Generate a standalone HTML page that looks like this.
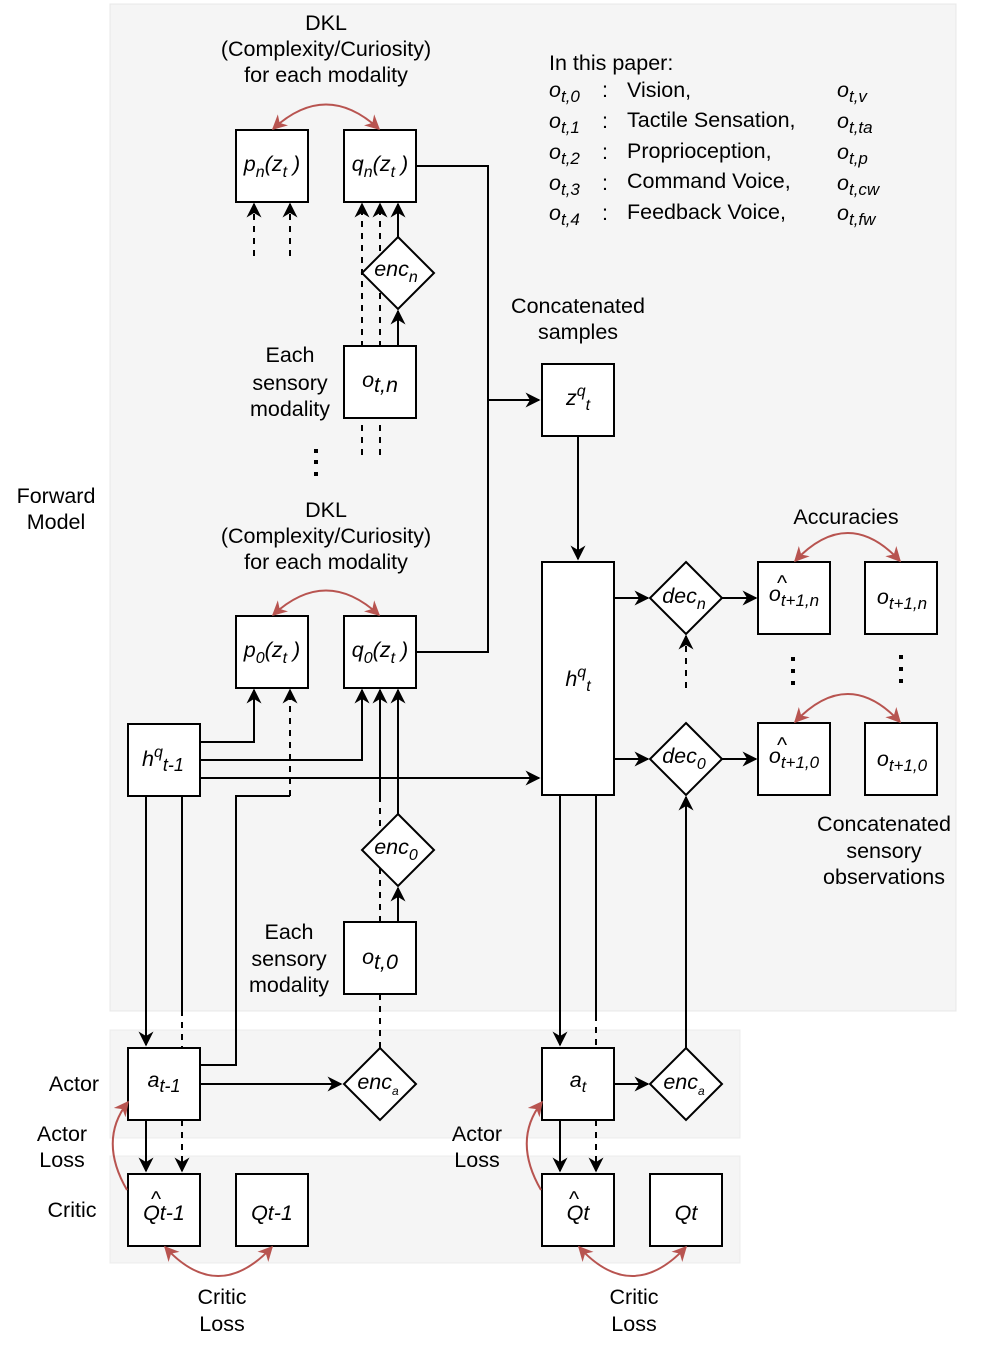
<!DOCTYPE html>
<html><head><meta charset="utf-8"><style>
html,body{margin:0;padding:0;background:#fff;}
svg{display:block;}
text{font-family:"Liberation Sans",sans-serif;font-size:21.5px;fill:#000;}
</style></head><body>
<svg width="983" height="1345" viewBox="0 0 983 1345" xmlns="http://www.w3.org/2000/svg">
<defs>
<marker id="a" viewBox="0 0 10 10" refX="9" refY="5" markerWidth="15" markerHeight="15" orient="auto-start-reverse" markerUnits="userSpaceOnUse"><path d="M0,0 L10,5 L0,10 L3,5 z" fill="#000"/></marker>
<marker id="r" viewBox="0 0 10 10" refX="9" refY="5" markerWidth="15" markerHeight="15" orient="auto-start-reverse" markerUnits="userSpaceOnUse"><path d="M0,0 L10,5 L0,10 L3,5 z" fill="#b85450"/></marker>
</defs>
<rect x="110" y="4" width="846" height="1007" fill="#f5f5f5" stroke="#e8e8e8"/>
<rect x="110" y="1030" width="630" height="108" fill="#f5f5f5" stroke="#ececec"/>
<rect x="110" y="1156" width="630" height="107" fill="#f5f5f5" stroke="#ececec"/>

<g fill="none" stroke="#000" stroke-width="2">
<path d="M254 256 V204" stroke-dasharray="6,6" marker-end="url(#a)"/>
<path d="M290 256 V204" stroke-dasharray="6,6" marker-end="url(#a)"/>
<path d="M362 455 V204" stroke-dasharray="6,6" marker-end="url(#a)"/>
<path d="M380 455 V204" stroke-dasharray="6,6" marker-end="url(#a)"/>
<path d="M398 237 V204" marker-end="url(#a)"/>
<path d="M398 346 V311" marker-end="url(#a)"/>
<path d="M416 166 H488 V652 H416"/>
<path d="M488 400 H539" marker-end="url(#a)"/>
<path d="M578 436 V559" marker-end="url(#a)"/>
<path d="M200 742 H254 V690" marker-end="url(#a)"/>
<path d="M200 760 H362 V690" marker-end="url(#a)"/>
<path d="M200 778 H539" marker-end="url(#a)"/>
<path d="M200 1065 H236 V796 H290"/>
<path d="M290 796 V690" stroke-dasharray="6,6" marker-end="url(#a)"/>
<path d="M380 800 V690" marker-end="url(#a)"/>
<path d="M380 922 V800" stroke-dasharray="6,6"/>
<path d="M398 814 V690" marker-end="url(#a)"/>
<path d="M398 922 V888" marker-end="url(#a)"/>
<path d="M380 994 V1048" stroke-dasharray="6,6"/>
<path d="M146 796 V1045" marker-end="url(#a)"/>
<path d="M182 796 V1010"/>
<path d="M182 1010 V1048" stroke-dasharray="6,6"/>
<path d="M200 1084 H341" marker-end="url(#a)"/>
<path d="M146 1120 V1171" marker-end="url(#a)"/>
<path d="M182 1120 V1171" stroke-dasharray="6,6" marker-end="url(#a)"/>
<path d="M614 598 H648" marker-end="url(#a)"/>
<path d="M614 759 H648" marker-end="url(#a)"/>
<path d="M722 598 H756" marker-end="url(#a)"/>
<path d="M722 759 H756" marker-end="url(#a)"/>
<path d="M686 688 V636" stroke-dasharray="6,6" marker-end="url(#a)"/>
<path d="M560 795 V1045" marker-end="url(#a)"/>
<path d="M596 795 V1015"/>
<path d="M596 1015 V1048" stroke-dasharray="6,6"/>
<path d="M614 1084 H648" marker-end="url(#a)"/>
<path d="M686 1048 V797" marker-end="url(#a)"/>
<path d="M560 1120 V1171" marker-end="url(#a)"/>
<path d="M596 1120 V1171" stroke-dasharray="6,6" marker-end="url(#a)"/>
</g>

<g fill="#fff" stroke="#000" stroke-width="2">
<rect x="236" y="130" width="72" height="72"/>
<rect x="344" y="130" width="72" height="72"/>
<rect x="344" y="346" width="72" height="72"/>
<rect x="542" y="364" width="72" height="72"/>
<rect x="542" y="562" width="72" height="233"/>
<rect x="236" y="616" width="72" height="72"/>
<rect x="344" y="616" width="72" height="72"/>
<rect x="128" y="724" width="72" height="72"/>
<rect x="344" y="922" width="72" height="72"/>
<rect x="758" y="562" width="72" height="72"/>
<rect x="865" y="562" width="72" height="72"/>
<rect x="758" y="723" width="72" height="72"/>
<rect x="865" y="723" width="72" height="72"/>
<rect x="128" y="1048" width="72" height="72"/>
<rect x="542" y="1048" width="72" height="72"/>
<rect x="128" y="1174" width="72" height="72"/>
<rect x="236" y="1174" width="72" height="72"/>
<rect x="542" y="1174" width="72" height="72"/>
<rect x="650" y="1174" width="72" height="72"/>
<path d="M398 237 L434 273 L398 309 L362 273 Z"/>
<path d="M398 814 L434 850 L398 886 L362 850 Z"/>
<path d="M686 562 L722 598 L686 634 L650 598 Z"/>
<path d="M686 723 L722 759 L686 795 L650 759 Z"/>
<path d="M380 1048 L416 1084 L380 1120 L344 1084 Z"/>
<path d="M686 1048 L722 1084 L686 1120 L650 1084 Z"/>
</g>

<g fill="none" stroke="#b85450" stroke-width="2">
<path d="M273 129 Q326 80 379 129" marker-start="url(#r)" marker-end="url(#r)"/>
<path d="M273 615 Q326 566 379 615" marker-start="url(#r)" marker-end="url(#r)"/>
<path d="M795 561 Q848 505 900 561" marker-start="url(#r)" marker-end="url(#r)"/>
<path d="M795 722 Q848 666 900 722" marker-start="url(#r)" marker-end="url(#r)"/>
<path d="M165 1247 Q218 1305 272 1247" marker-start="url(#r)" marker-end="url(#r)"/>
<path d="M579 1247 Q632 1305 686 1247" marker-start="url(#r)" marker-end="url(#r)"/>
<path d="M127 1190 Q98 1140 128 1102" marker-end="url(#r)"/>
<path d="M541 1190 Q512 1140 542 1102" marker-end="url(#r)"/>
</g>

<g fill="#000">
<rect x="314" y="449" width="4" height="4"/><rect x="314" y="460" width="4" height="4"/><rect x="314" y="472" width="4" height="4"/>
<rect x="791" y="657" width="4" height="4"/><rect x="791" y="669" width="4" height="4"/><rect x="791" y="681" width="4" height="4"/>
<rect x="899" y="655" width="4" height="4"/><rect x="899" y="667" width="4" height="4"/><rect x="899" y="679" width="4" height="4"/>
</g>

<g text-anchor="middle">
<text x="326" y="30">DKL</text>
<text x="326" y="56">(Complexity/Curiosity)</text>
<text x="326" y="82">for each modality</text>
<text x="326" y="517">DKL</text>
<text x="326" y="543">(Complexity/Curiosity)</text>
<text x="326" y="569">for each modality</text>
<text x="290" y="362">Each</text>
<text x="290" y="390">sensory</text>
<text x="290" y="416">modality</text>
<text x="289" y="939">Each</text>
<text x="289" y="966">sensory</text>
<text x="289" y="992">modality</text>
<text x="56" y="503">Forward</text>
<text x="56" y="529">Model</text>
<text x="578" y="313">Concatenated</text>
<text x="578" y="339">samples</text>
<text x="846" y="524">Accuracies</text>
<text x="884" y="831">Concatenated</text>
<text x="884" y="858">sensory</text>
<text x="884" y="884">observations</text>
<text x="74" y="1091">Actor</text>
<text x="62" y="1141">Actor</text>
<text x="62" y="1167">Loss</text>
<text x="72" y="1217">Critic</text>
<text x="477" y="1141">Actor</text>
<text x="477" y="1167">Loss</text>
<text x="222" y="1304">Critic</text>
<text x="222" y="1331">Loss</text>
<text x="634" y="1304">Critic</text>
<text x="634" y="1331">Loss</text>
</g>

<g text-anchor="middle" font-style="italic">
<text x="272" y="171">p<tspan dy="6" font-size="16">n</tspan><tspan dy="-6">(z</tspan><tspan dy="6" font-size="16">t</tspan><tspan dy="-6"> )</tspan></text>
<text x="380" y="171">q<tspan dy="6" font-size="16">n</tspan><tspan dy="-6">(z</tspan><tspan dy="6" font-size="16">t</tspan><tspan dy="-6"> )</tspan></text>
<text x="272" y="657">p<tspan dy="6" font-size="16">0</tspan><tspan dy="-6">(z</tspan><tspan dy="6" font-size="16">t</tspan><tspan dy="-6"> )</tspan></text>
<text x="380" y="657">q<tspan dy="6" font-size="16">0</tspan><tspan dy="-6">(z</tspan><tspan dy="6" font-size="16">t</tspan><tspan dy="-6"> )</tspan></text>
<text x="396" y="276">enc<tspan dy="6" font-size="16">n</tspan></text>
<text x="396" y="854">enc<tspan dy="6" font-size="16">0</tspan></text>
<text x="378" y="1089">enc<tspan dy="6" font-size="12">a</tspan></text>
<text x="684" y="1089">enc<tspan dy="6" font-size="12">a</tspan></text>
<text x="684" y="603">dec<tspan dy="6" font-size="16">n</tspan></text>
<text x="684" y="763">dec<tspan dy="6" font-size="16">0</tspan></text>
<text x="380" y="387">o<tspan dy="5">t,n</tspan></text>
<text x="380" y="964">o<tspan dy="5">t,0</tspan></text>
<text x="578" y="405">z<tspan dy="-9" font-size="16">q</tspan><tspan dy="14" font-size="16">t</tspan></text>
<text x="578" y="686">h<tspan dy="-9" font-size="16">q</tspan><tspan dy="14" font-size="16">t</tspan></text>
<text x="163" y="766">h<tspan dy="-9" font-size="16">q</tspan><tspan dy="14" font-size="18">t-1</tspan></text>
<text x="794" y="601">o<tspan dy="5" font-size="17">t+1,n</tspan></text>
<text x="782" y="590" font-style="normal" font-size="16">^</text>
<text x="902" y="604">o<tspan dy="5" font-size="17">t+1,n</tspan></text>
<text x="794" y="763">o<tspan dy="5" font-size="17">t+1,0</tspan></text>
<text x="782" y="752" font-style="normal" font-size="16">^</text>
<text x="902" y="766">o<tspan dy="5" font-size="17">t+1,0</tspan></text>
<text x="164" y="1087">a<tspan dy="5" font-size="18">t-1</tspan></text>
<text x="578" y="1087">a<tspan dy="5" font-size="16">t</tspan></text>
<text x="164" y="1220" font-size="20">Qt-1</text>
<text x="156" y="1206" font-style="normal" font-size="16">^</text>
<text x="578" y="1220" font-size="20">Qt</text>
<text x="574" y="1206" font-style="normal" font-size="16">^</text>
<text x="272" y="1220" font-size="20">Qt-1</text>
<text x="686" y="1220" font-size="20">Qt</text>
</g>

<text x="549" y="70">In this paper:</text>
<g font-style="italic">
<text x="549" y="97">o<tspan dy="5" font-size="17">t,0</tspan></text>
<text x="549" y="128">o<tspan dy="5" font-size="17">t,1</tspan></text>
<text x="549" y="159">o<tspan dy="5" font-size="17">t,2</tspan></text>
<text x="549" y="190">o<tspan dy="5" font-size="17">t,3</tspan></text>
<text x="549" y="220">o<tspan dy="5" font-size="17">t,4</tspan></text>
<text x="837" y="97">o<tspan dy="5" font-size="17">t,v</tspan></text>
<text x="837" y="128">o<tspan dy="5" font-size="17">t,ta</tspan></text>
<text x="837" y="159">o<tspan dy="5" font-size="17">t,p</tspan></text>
<text x="837" y="190">o<tspan dy="5" font-size="17">t,cw</tspan></text>
<text x="837" y="220">o<tspan dy="5" font-size="17">t,fw</tspan></text>
</g>
<text x="602" y="97">:</text><text x="602" y="128">:</text><text x="602" y="159">:</text><text x="602" y="190">:</text><text x="602" y="220">:</text>
<text x="627" y="97">Vision,</text>
<text x="627" y="127">Tactile Sensation,</text>
<text x="627" y="158">Proprioception,</text>
<text x="627" y="188">Command Voice,</text>
<text x="627" y="219">Feedback Voice,</text>
</svg>
</body></html>
